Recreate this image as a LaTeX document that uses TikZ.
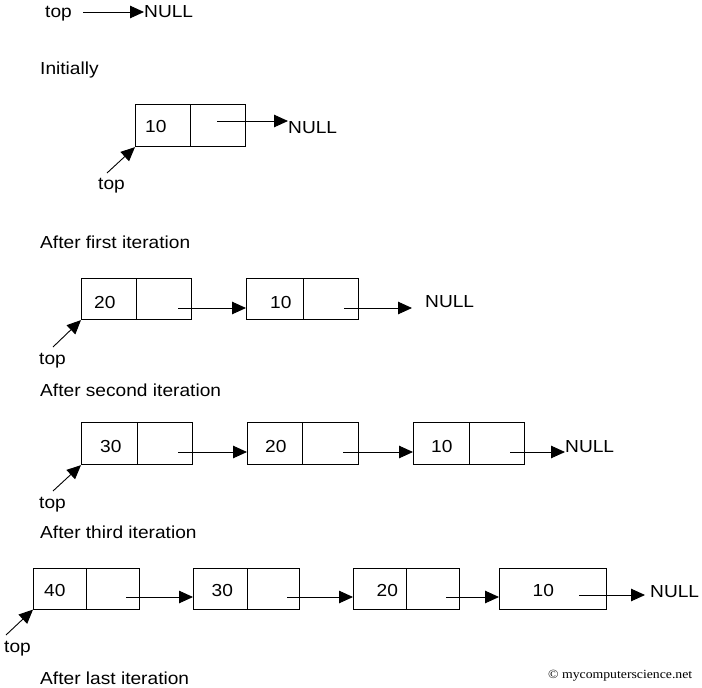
\documentclass[tikz,border=0pt]{standalone}
\usepackage{fontspec}
\setmainfont{Liberation Sans}[FakeStretch=1.1]
\newfontfamily\cpyfont{Liberation Serif}[FakeStretch=1.1]
\usetikzlibrary{arrows.meta}
\begin{document}
\begin{tikzpicture}[x=1pt,y=-1pt,
  txt/.style={inner sep=0pt, anchor=base west, font=\fontsize{17.4}{20}\selectfont},
  cell/.style={draw, line width=1.1pt, inner sep=0pt, anchor=north west},
  ptr/.style={line width=0.9pt, -{Triangle[length=14pt,width=12.5pt]}}
]
\useasboundingbox (0,0) rectangle (702,688);

% ---- top -> NULL
\node[txt] (t0) at (45,17.5) {top};
\node[txt] (n0) at (144,17.5) {NULL};
\coordinate (s0) at (83,12);
\draw[ptr] (s0) -- (s0 -| n0.west);
\node[txt] (l0) at (40,74) {Initially};

% ---- row 1
\node[cell, minimum width=55pt, minimum height=42pt] (r1a) at (135,104) {};
\node[cell, minimum width=55pt, minimum height=42pt] (r1b) at (190,104) {};
\node[txt] (v1a) at (145,132.5) {10};
\node[txt] (n1) at (288,133) {NULL};
\coordinate (s1) at (217,121);
\draw[ptr] (s1) -- (s1 -| n1.west);
\node[txt] (t1) at (98,189) {top};
\coordinate (q1) at (107,173);
\draw[ptr] (q1) -- (r1a.south west);
\node[txt] (l1) at (40,248) {After first iteration};

% ---- row 2
\node[cell, minimum width=55pt, minimum height=41pt] (r2a) at (81,278) {};
\node[cell, minimum width=55pt, minimum height=41pt] (r2b) at (136,278) {};
\node[cell, minimum width=57pt, minimum height=41pt] (r2c) at (246,278) {};
\node[cell, minimum width=55pt, minimum height=41pt] (r2d) at (303,278) {};
\node[txt] (v2a) at (94,308) {20};
\node[txt] (v2c) at (270,308) {10};
\node[txt] (n2) at (425,307.5) {NULL};
\coordinate (s2a) at (178,308);
\coordinate (s2b) at (344,308);
\draw[ptr] (s2a) -- (s2a -| r2c.west);
\draw[ptr, shorten >=13pt] (s2b) -- (s2b -| n2.west);
\node[txt] (t2) at (39,364) {top};
\coordinate (q2) at (53,347);
\draw[ptr] (q2) -- (r2a.south west);
\node[txt] (l2) at (40,396) {After second iteration};

% ---- row 3
\node[cell, minimum width=56pt, minimum height=42pt] (r3a) at (81,422) {};
\node[cell, minimum width=55pt, minimum height=42pt] (r3b) at (137,422) {};
\node[cell, minimum width=55pt, minimum height=42pt] (r3c) at (247,422) {};
\node[cell, minimum width=56pt, minimum height=42pt] (r3d) at (302,422) {};
\node[cell, minimum width=56pt, minimum height=42pt] (r3e) at (413,422) {};
\node[cell, minimum width=55pt, minimum height=42pt] (r3f) at (469,422) {};
\node[txt] (v3a) at (100,452.5) {30};
\node[txt] (v3c) at (265,452.5) {20};
\node[txt] (v3e) at (431,452.5) {10};
\node[txt] (n3) at (565,452) {NULL};
\coordinate (s3a) at (178,452);
\coordinate (s3b) at (343,452);
\coordinate (s3c) at (510,452);
\draw[ptr] (s3a) -- (s3a -| r3c.west);
\draw[ptr] (s3b) -- (s3b -| r3e.west);
\draw[ptr] (s3c) -- (s3c -| n3.west);
\node[txt] (t3) at (39,508) {top};
\coordinate (q3) at (53,491);
\draw[ptr] (q3) -- (r3a.south west);
\node[txt] (l3) at (40,538) {After third iteration};

% ---- row 4
\node[cell, minimum width=53pt, minimum height=41pt] (r4a) at (33,567.5) {};
\node[cell, minimum width=53pt, minimum height=41pt] (r4b) at (86,567.5) {};
\node[cell, minimum width=54pt, minimum height=41pt] (r4c) at (193,567.5) {};
\node[cell, minimum width=52pt, minimum height=41pt] (r4d) at (247,567.5) {};
\node[cell, minimum width=53pt, minimum height=41pt] (r4e) at (353,567.5) {};
\node[cell, minimum width=53pt, minimum height=41pt] (r4f) at (406,567.5) {};
\node[cell, minimum width=107pt, minimum height=41pt] (r4g) at (499,567.5) {};
\node[txt] (v4a) at (44,596) {40};
\node[txt] (v4c) at (211.5,596) {30};
\node[txt] (v4e) at (376.5,596) {20};
\node[txt] (v4g) at (532.5,596) {10};
\node[txt] (n4) at (650,597) {NULL};
\coordinate (s4a) at (126,597);
\coordinate (s4b) at (287,597);
\coordinate (s4c) at (446,597);
\coordinate (s4d) at (579,595);
\draw[ptr] (s4a) -- (s4a -| r4c.west);
\draw[ptr] (s4b) -- (s4b -| r4e.west);
\draw[ptr] (s4c) -- (s4c -| r4g.west);
\draw[ptr, shorten >=5pt] (s4d) -- (s4d -| n4.west);
\node[txt] (t4) at (4,652) {top};
\coordinate (q4) at (6,635);
\draw[ptr] (q4) -- (r4a.south west);
\node[txt] (l4) at (40,684) {After last iteration};
\node[inner sep=0pt, anchor=base west, font=\cpyfont\fontsize{12.5}{14}\selectfont] (cp) at (548,678) {\textcopyright\ mycomputerscience.net};
\end{tikzpicture}
\end{document}
